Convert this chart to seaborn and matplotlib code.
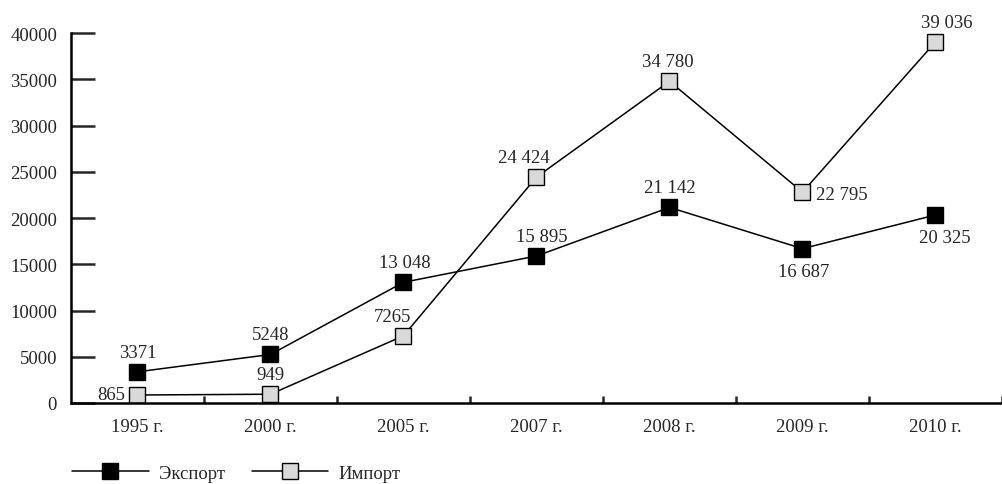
import matplotlib
matplotlib.use("Agg")
import matplotlib.pyplot as plt
import seaborn as sns
import pandas as pd
from matplotlib.ticker import FixedLocator

years = ["1995 г.", "2000 г.", "2005 г.", "2007 г.", "2008 г.", "2009 г.", "2010 г."]
export = [3371, 5248, 13048, 15895, 21142, 16687, 20325]
imports = [865, 949, 7265, 24424, 34780, 22795, 39036]
export_labels = ["3371", "5248", "13 048", "15 895", "21 142", "16 687", "20 325"]
import_labels = ["865", "949", "7265", "24 424", "34 780", "22 795", "39 036"]

sns.set_style("white")
plt.rcParams["font.family"] = ["Liberation Serif", "DejaVu Serif"]
plt.rcParams["font.size"] = 13.5

df = pd.DataFrame({"year": years, "Экспорт": export, "Импорт": imports})

fig = plt.figure(figsize=(10.03, 4.85), dpi=100)
ax = fig.add_axes([71 / 1003, 81 / 485, 931 / 1003, 370 / 485])

sns.lineplot(data=df, x="year", y="Экспорт", ax=ax, color="black", lw=1.1,
             marker="s", markersize=11.5, markerfacecolor="black",
             markeredgecolor="black", markeredgewidth=1.0, label="Экспорт")
sns.lineplot(data=df, x="year", y="Импорт", ax=ax, color="black", lw=1.1,
             marker="s", markersize=11.5, markerfacecolor="#d9d9d9",
             markeredgecolor="black", markeredgewidth=1.0, label="Импорт")

# label offsets in points (dx, dy, ha, va)
exp_off = [(0, 8, "center", "bottom"), (0, 8, "center", "bottom"),
           (1, 8, "center", "bottom"), (4, 8, "center", "bottom"),
           (0, 8, "center", "bottom"), (1, -10, "center", "top"),
           (7, -10, "center", "top")]
imp_off = [(-9, 0, "right", "center"), (0, 8, "center", "bottom"),
           (-8, 8, "center", "bottom"), (-9, 8, "center", "bottom"),
           (-1, 8, "center", "bottom"), (10, -2, "left", "center"),
           (8, 8, "center", "bottom")]
for i, (v, t) in enumerate(zip(export, export_labels)):
    dx, dy, ha, va = exp_off[i]
    ax.annotate(t, (i, v), xytext=(dx, dy), textcoords="offset points", ha=ha, va=va)
for i, (v, t) in enumerate(zip(imports, import_labels)):
    dx, dy, ha, va = imp_off[i]
    ax.annotate(t, (i, v), xytext=(dx, dy), textcoords="offset points", ha=ha, va=va)

ax.set_xlim(-0.5, len(years) - 0.5)
ax.set_ylim(0, 40000)
ax.set_yticks(range(0, 40001, 5000))
ax.set_xlabel("")
ax.set_ylabel("")
sns.despine(ax=ax)
for s in ["left", "bottom"]:
    ax.spines[s].set_linewidth(1.8)
    ax.spines[s].set_color("black")

ax.tick_params(axis="y", direction="in", length=17, width=1.8, pad=10, left=True)
ax.tick_params(axis="x", which="major", length=0, pad=11)
ax.xaxis.set_minor_locator(FixedLocator([i + 0.5 for i in range(len(years))]))
ax.tick_params(axis="x", which="minor", direction="in", length=5, width=1.8, bottom=True)

ax.legend(loc="lower left", bbox_to_anchor=(72 / 1003, 0.004), bbox_transform=fig.transFigure,
          ncol=2, frameon=False, handlelength=4.1, handletextpad=0.55,
          columnspacing=1.4, borderpad=0.0, borderaxespad=0)

fig.savefig("out.png", dpi=100)
